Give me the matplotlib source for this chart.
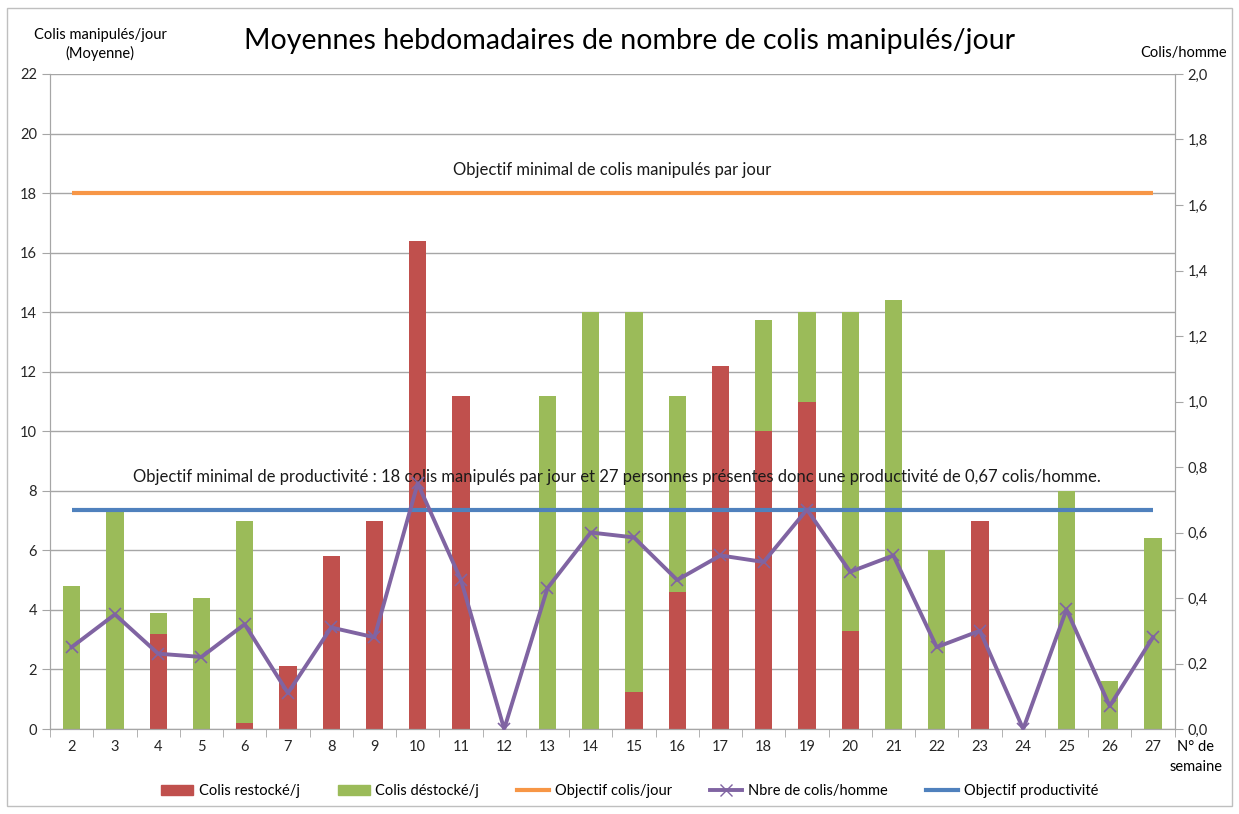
import matplotlib
matplotlib.use('Agg')
import matplotlib.pyplot as plt
import matplotlib.patches as mpatches
from matplotlib.lines import Line2D
from matplotlib.ticker import FuncFormatter, MultipleLocator
import numpy as np

plt.rcParams['font.family'] = ['Lato', 'DejaVu Sans']

weeks = list(range(2, 28))
restocke = [0, 0, 3.2, 0, 0.2, 2.1, 5.8, 7.0, 16.4, 11.2, 0, 0, 0, 1.25,
            4.6, 12.2, 10.0, 11.0, 3.3, 0, 0, 7.0, 0, 0, 0, 0]
total = [4.8, 7.3, 3.9, 4.4, 7.0, 2.1, 5.8, 7.0, 16.4, 11.2, 0, 11.2, 14.0, 14.0,
         11.2, 12.2, 13.75, 14.0, 14.0, 14.4, 6.0, 7.0, 0, 8.0, 1.6, 6.4]
destocke = [t - r for t, r in zip(total, restocke)]
colis_homme = [0.25, 0.35, 0.23, 0.22, 0.32, 0.11, 0.31, 0.28, 0.75, 0.455, 0.0,
               0.43, 0.60, 0.585, 0.455, 0.53, 0.51, 0.67, 0.48, 0.53, 0.25,
               0.30, 0.0, 0.365, 0.07, 0.28]
objectif_colis = 18
objectif_prod = 0.67

RED = '#C0504D'
GREEN = '#9BBB59'
ORANGE = '#F79646'
PURPLE = '#8064A2'
BLUE = '#4F81BD'
GRID = '#A6A6A6'

fig = plt.figure(figsize=(12.39, 8.14), dpi=100)
ax = fig.add_axes([0.0404, 0.1044, 0.9076, 0.8047])
ax2 = ax.twinx()

x = np.array(weeks)
ax.bar(x, restocke, width=0.4, color=RED, zorder=2)
ax.bar(x, destocke, width=0.4, bottom=restocke, color=GREEN, zorder=2)
ax.plot([x[0], x[-1]], [objectif_colis] * 2, color=ORANGE, lw=3, zorder=3,
        solid_capstyle='butt')

ax2.plot([x[0], x[-1]], [objectif_prod] * 2, color=BLUE, lw=3,
         solid_capstyle='butt', zorder=3)
ax2.plot(x, colis_homme, color=PURPLE, lw=2.8, marker='x', markersize=9,
         markeredgewidth=1.2, zorder=4)

ax.set_xlim(1.5, 27.5)
ax.set_ylim(0, 22)
ax2.set_ylim(0, 2.0)

ax.yaxis.set_major_locator(MultipleLocator(2))
ax2.yaxis.set_major_locator(MultipleLocator(0.2))
ax2.yaxis.set_major_formatter(FuncFormatter(lambda v, p: f'{v:.1f}'.replace('.', ',')))
ax.grid(axis='y', color=GRID, lw=1, zorder=0)
ax.set_axisbelow(True)

ax.set_xticks(weeks)
ax.set_xticks(np.arange(1.5, 28, 1), minor=True)
ax.tick_params(axis='x', which='major', length=0, pad=8, labelsize=10.5, colors='#262626')
ax.tick_params(axis='x', which='minor', length=6, color=GRID)
ax.tick_params(axis='y', length=6, color=GRID, labelsize=10.5, labelcolor='#262626')
ax2.tick_params(axis='y', length=6, color=GRID, labelsize=10.5, labelcolor='#262626')

for a in (ax, ax2):
    a.spines['top'].set_visible(False)
    for s in ('left', 'right', 'bottom'):
        a.spines[s].set_color(GRID)

ax.text(14.5, 18.5, 'Objectif minimal de colis manipulés par jour', ha='center',
        va='bottom', fontsize=12, color='#1a1a1a')
ax.text(14.6, 8.2, "Objectif minimal de productivité : 18 colis manipulés par jour et 27 "
        "personnes présentes donc une productivité de 0,67 colis/homme.",
        ha='center', va='bottom', fontsize=12, color='#1a1a1a')

fig.text(0.508, 0.95, 'Moyennes hebdomadaires de nombre de colis manipulés/jour',
         ha='center', va='center', fontsize=20.5)
fig.text(0.081, 0.945, 'Colis manipulés/jour\n(Moyenne)', ha='center', va='center',
         fontsize=10.5, linespacing=1.3)
fig.text(0.955, 0.935, 'Colis/homme', ha='center', va='center', fontsize=10.5)
fig.text(0.965, 0.07, 'N° de\nsemaine', ha='center', va='center', fontsize=10.5,
         linespacing=1.6)

handles = [
    mpatches.Patch(color=RED, label='Colis restocké/j'),
    mpatches.Patch(color=GREEN, label='Colis déstocké/j'),
    Line2D([], [], color=ORANGE, lw=3, label='Objectif colis/jour'),
    Line2D([], [], color=PURPLE, lw=2.8, marker='x', markersize=8, label='Nbre de colis/homme'),
    Line2D([], [], color=BLUE, lw=3, label='Objectif productivité'),
]
fig.legend(handles=handles, loc='center', bbox_to_anchor=(0.508, 0.028), ncol=5,
           frameon=False, fontsize=10.5, handlelength=2.2, columnspacing=2.6,
           handletextpad=0.4)

fig.add_artist(mpatches.Rectangle((0.006, 0.01), 0.988, 0.98, transform=fig.transFigure,
                                  fill=False, edgecolor='#BFBFBF', lw=1))

fig.savefig('out.png', dpi=100)
plt.close(fig)
